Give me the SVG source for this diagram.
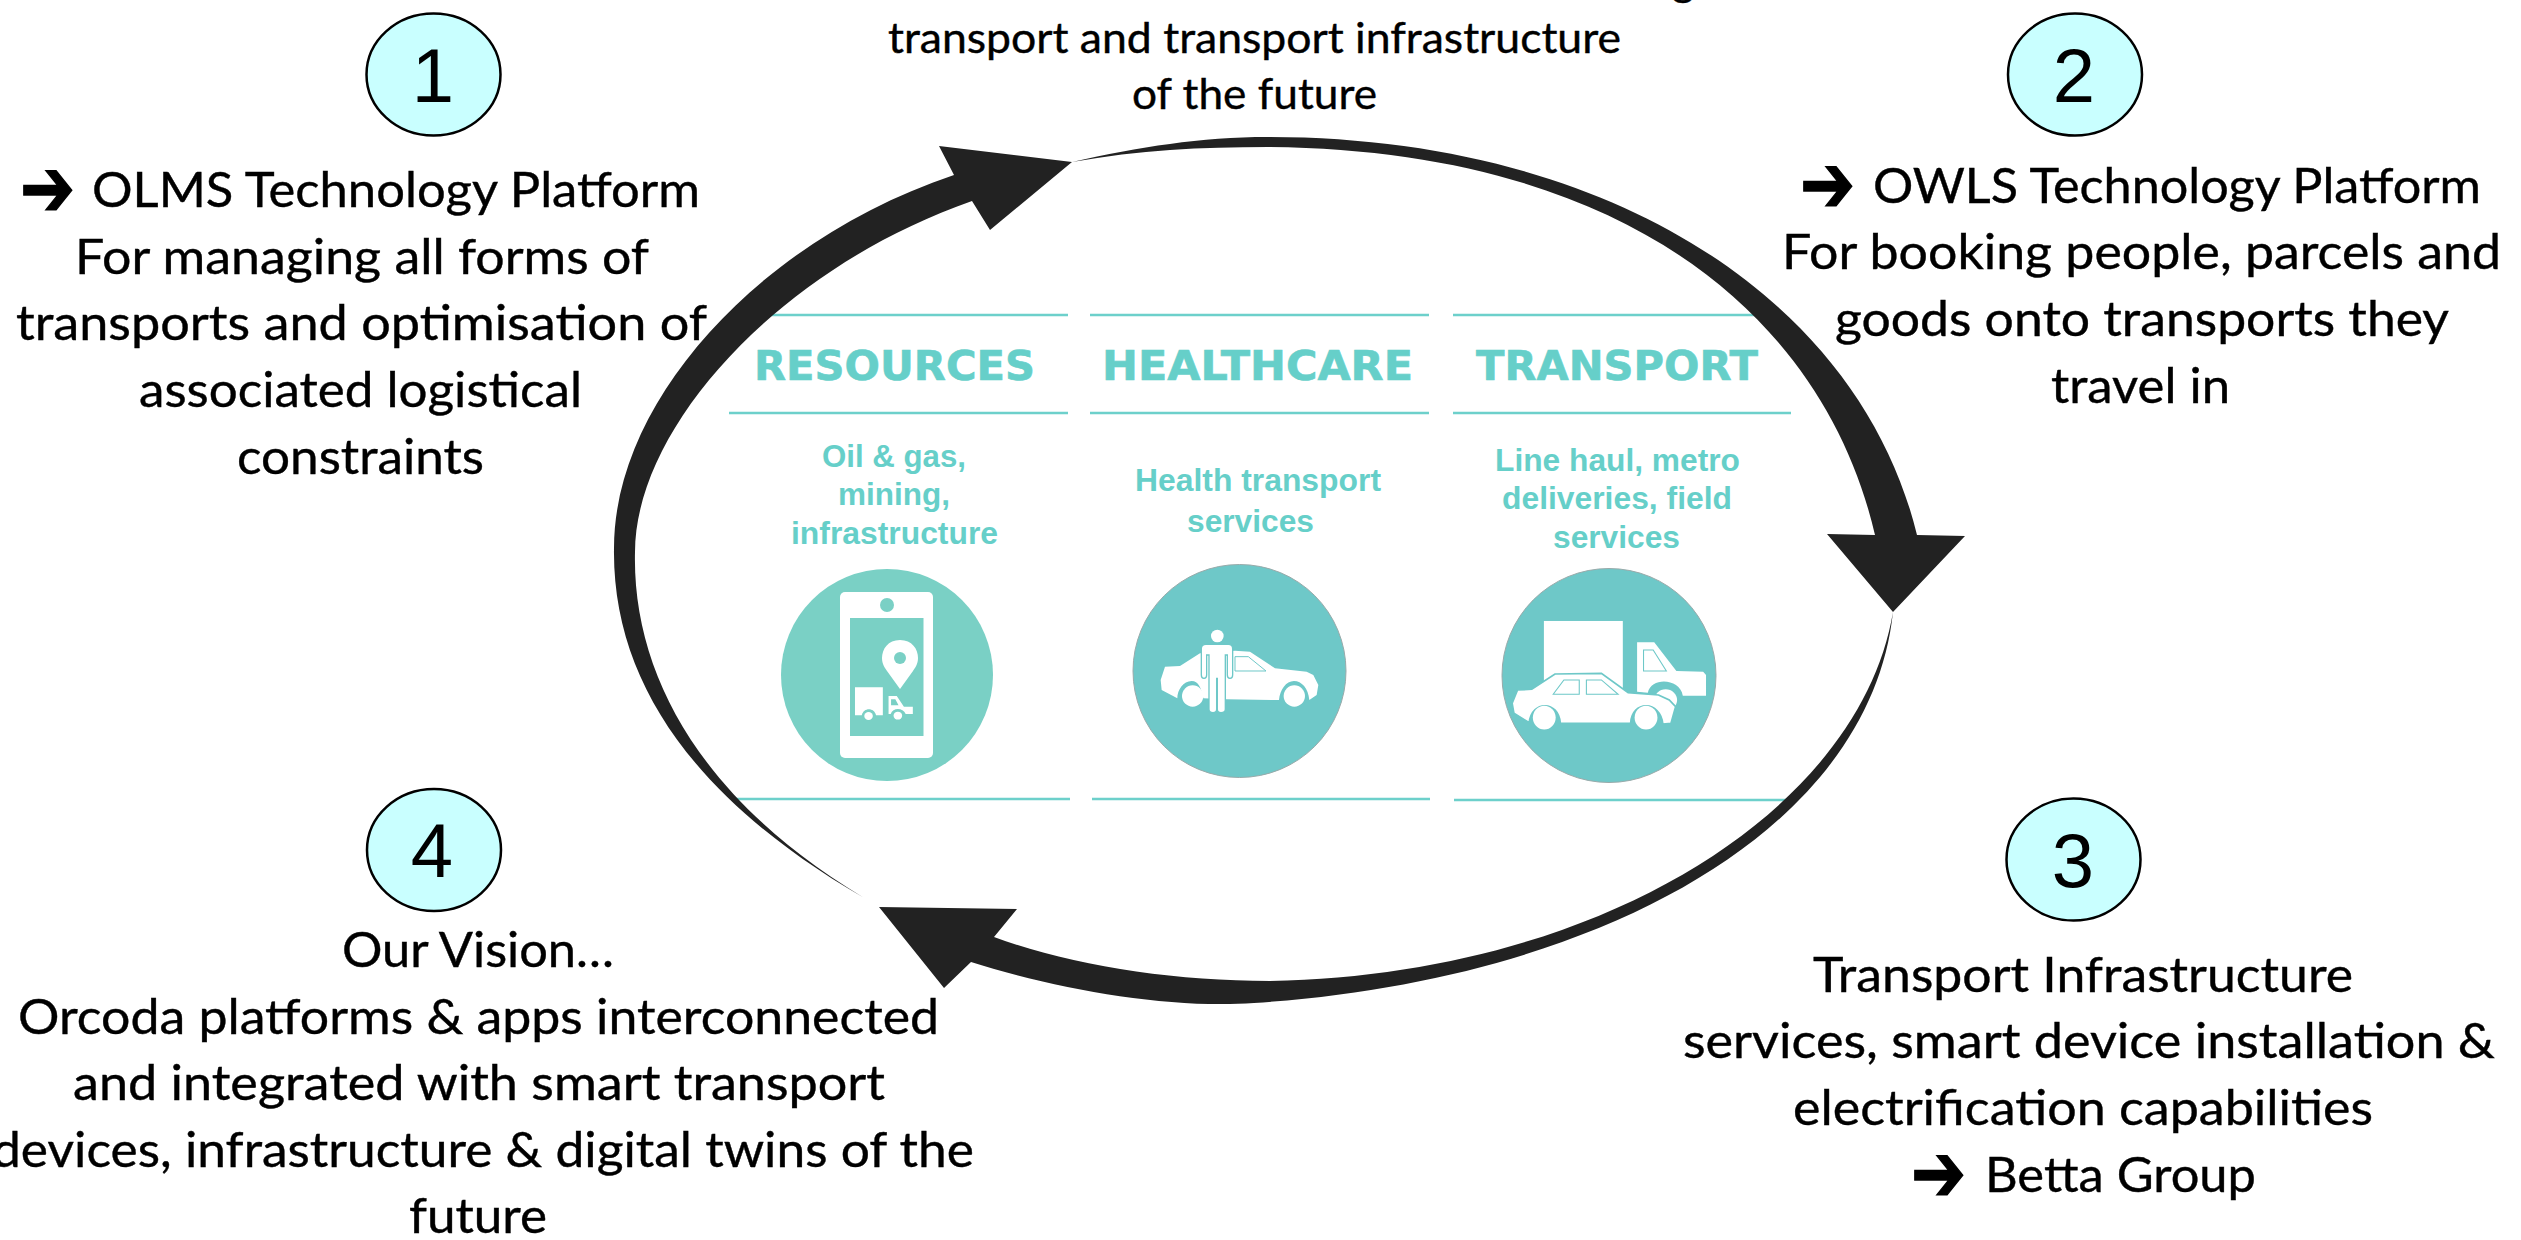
<svg xmlns="http://www.w3.org/2000/svg" width="2521" height="1240" viewBox="0 0 2521 1240">
<style>
.t{font-family:Lato,"Open Sans","Liberation Sans",sans-serif;font-size:49px;fill:#000;stroke:#000;stroke-width:.4}
.top{font-size:43px}
.ar{font-family:"DejaVu Sans",sans-serif;font-size:82px;font-weight:bold;fill:#000;stroke:#000;stroke-width:1.5}
.num{font-family:"Liberation Sans",Arial,sans-serif;font-size:76px;fill:#000;text-anchor:middle}
.bub{fill:#c9ffff;stroke:#000;stroke-width:2.5}
.h{font-family:"DejaVu Sans",sans-serif;font-weight:bold;font-size:40px;fill:#66cfc9;stroke:#66cfc9;stroke-width:.6}
.s{font-family:"Liberation Sans",Arial,sans-serif;font-weight:bold;font-size:31px;fill:#66cfc9}
.rule{stroke:#6dd0cb;stroke-width:2.5;fill:none}
.ring{fill:#222}
.w{fill:#fff}
.tealA{fill:#7ad0c5}
.tealB{fill:#6ec8c8;stroke:#9aa;stroke-width:1}
</style>
<rect width="2521" height="1240" fill="#fff"/>

<g id="panel-rules">
<path class="rule" d="M766,315H1068M729,413H1068M731,799H1070M1090,315H1429M1090,413H1429M1092,799H1430M1453,315H1760M1453,413H1791M1454,800H1787"/>
</g>

<g id="connectors">
<path class="ring" d="M880,907 C705,810 612,690 614,548 C614,400 760,240 954,175 L939,146 L1072,162 L990,230 L972,201 C775,270 635,430 635,552 C632,680 708,810 880,907 Z"/>
<path class="ring" d="M1072,162 C1140,147 1200,137 1268,137 C1610,137 1860,300 1917,535 L1965,536 L1893,612 L1827,534 L1875,535 C1825,320 1630,150 1268,147 C1200,147 1140,150 1072,162 Z"/>
<path class="ring" d="M1893,612 C1870,830 1600,980 1254,1003 C1170,1009 1060,990 971,962 L944,988 L879,907 L1017,909 L994,937 C1070,965 1170,981 1270,981 C1600,975 1860,810 1893,612 Z"/>
</g>

<g id="resources">
<text class="h" x="754" y="380" textLength="281" lengthAdjust="spacingAndGlyphs">RESOURCES</text>
<text class="s" x="822" y="467" textLength="144" lengthAdjust="spacingAndGlyphs">Oil &amp; gas,</text>
<text class="s" x="838" y="505" textLength="112" lengthAdjust="spacingAndGlyphs">mining,</text>
<text class="s" x="791" y="544" textLength="207" lengthAdjust="spacingAndGlyphs">infrastructure</text>
<circle class="tealA" cx="887" cy="675" r="106"/>
<rect class="w" x="840" y="592" width="93" height="166" rx="5"/>
<rect class="tealA" x="850" y="618" width="73.500" height="118"/>
<circle class="tealA" cx="887" cy="605" r="7"/>
<path class="w" d="M900,640 C888,640 882,649 882,658 C882,664 885,668 887,671 L900,689 L913,671 C915,668 918,664 918,658 C918,649 912,640 900,640 Z"/>
<circle class="tealA" cx="900" cy="658" r="6"/>
<g transform="translate(720,300) scale(.3571,.3333)">
<path class="w" d="M378,1162H456V1246H437C432,1222 402,1222 397,1246H378Z"/>
<ellipse class="w" cx="416" cy="1248" rx="12" ry="12"/>
<path class="w" d="M472,1188H495L515,1220H540V1242H520C512,1222 484,1222 478,1242H472Z"/>
<ellipse class="w" cx="498" cy="1247" rx="12" ry="12"/>
<path class="tealA" d="M479,1198H491L500,1216H479Z"/>
</g>
</g>

<g id="healthcare">
<text class="h" x="1102" y="380" textLength="311" lengthAdjust="spacingAndGlyphs">HEALTHCARE</text>
<text class="s" x="1135" y="491" textLength="246" lengthAdjust="spacingAndGlyphs">Health transport</text>
<text class="s" x="1187" y="532" textLength="127" lengthAdjust="spacingAndGlyphs">services</text>
<circle class="tealB" cx="1239.500" cy="671" r="106.500"/>
<g transform="translate(1120,610) scale(.3333)">
<path class="w" d="M122,210 L135,170 L180,168 L240,130 L345,122 L390,125 L465,175 L560,185 L580,195 L595,225 L590,255 L568,270 C565,235 545,213 522,213 C498,213 480,240 477,270 L320,268 L250,265 C245,235 235,213 215,213 C190,213 172,240 172,265 L125,240 Z"/>
<circle class="w" cx="218" cy="258" r="32"/>
<circle class="w" cx="523" cy="258" r="32"/>
<path fill="#fff" stroke="#6ec8c8" stroke-width="3" d="M345,140H385L438,183H345Z"/>
<circle class="w" cx="292" cy="78" r="19"/>
<path fill="#fff" stroke="#6ec8c8" stroke-width="4" d="M258,103 H325 Q338,103 338,116 V195 Q338,205 330,205 Q322,205 322,195 V135 H316 V298 Q316,308 303,308 Q292,308 292,298 V205 H290 V298 Q290,308 279,308 Q267,308 267,298 V135 H260 V195 Q260,205 252,205 Q244,205 244,195 V116 Q244,103 258,103 Z"/>
</g>
</g>

<g id="transport">
<text class="h" x="1476" y="380" textLength="282" lengthAdjust="spacingAndGlyphs">TRANSPORT</text>
<text class="s" x="1495" y="471" textLength="245" lengthAdjust="spacingAndGlyphs">Line haul, metro</text>
<text class="s" x="1502" y="509" textLength="230" lengthAdjust="spacingAndGlyphs">deliveries, field</text>
<text class="s" x="1553" y="548" textLength="127" lengthAdjust="spacingAndGlyphs">services</text>
<circle class="tealB" cx="1609" cy="675.500" r="107"/>
<g transform="translate(1280,300) scale(.3571,.3333)">
<rect class="w" x="739" y="963" width="221" height="217"/>
<path class="w" d="M1000,1027H1048L1110,1113L1185,1115L1193,1125V1187H1128C1120,1135 1040,1130 1030,1178L1000,1175Z"/>
<ellipse class="w" cx="1080" cy="1200" rx="32" ry="32"/>
<path fill="#fff" stroke="#6ec8c8" stroke-width="3" d="M1018,1050H1045L1082,1113H1018Z"/>
<path fill="#fff" stroke="#6ec8c8" stroke-width="5" d="M650,1210L665,1170L705,1168L770,1122L900,1120L975,1178L1060,1185L1090,1200L1108,1220L1095,1270L1072,1272C1065,1200 985,1200 982,1270H785C780,1200 705,1200 698,1268L655,1240Z"/>
<ellipse class="w" cx="740" cy="1253" rx="32" ry="36"/>
<ellipse class="w" cx="1025" cy="1253" rx="32" ry="36"/>
<path fill="#fff" stroke="#6ec8c8" stroke-width="3" d="M765,1183L795,1140H838V1183Z"/>
<path fill="#fff" stroke="#6ec8c8" stroke-width="3" d="M858,1140H900L947,1183H858Z"/>
</g>
</g>

<g id="top-note">
<text class="t top" x="1672" y="-4">g</text>
<text class="t top" x="888" y="53" textLength="733" lengthAdjust="spacingAndGlyphs">transport and transport infrastructure</text>
<text class="t top" x="1132" y="109" textLength="245" lengthAdjust="spacingAndGlyphs">of the future</text>
</g>

<g id="step-1">
<ellipse class="bub" cx="433.500" cy="74.500" rx="67" ry="61"/>
<text class="num" x="433" y="102">1</text>
<text class="ar" x="20" y="216" textLength="55" lengthAdjust="spacingAndGlyphs">➔</text>
<text class="t" x="92" y="207" textLength="608" lengthAdjust="spacingAndGlyphs">OLMS Technology Platform</text>
<text class="t" x="75" y="274" textLength="574" lengthAdjust="spacingAndGlyphs">For managing all forms of</text>
<text class="t" x="16" y="340" textLength="691" lengthAdjust="spacingAndGlyphs">transports and optimisation of</text>
<text class="t" x="139" y="407" textLength="443" lengthAdjust="spacingAndGlyphs">associated logistical</text>
<text class="t" x="237" y="474" textLength="247" lengthAdjust="spacingAndGlyphs">constraints</text>
</g>

<g id="step-2">
<ellipse class="bub" cx="2075" cy="74.500" rx="67" ry="61"/>
<text class="num" x="2074" y="102">2</text>
<text class="ar" x="1800" y="212" textLength="55" lengthAdjust="spacingAndGlyphs">➔</text>
<text class="t" x="1873" y="203" textLength="608" lengthAdjust="spacingAndGlyphs">OWLS Technology Platform</text>
<text class="t" x="1782" y="269" textLength="719" lengthAdjust="spacingAndGlyphs">For booking people, parcels and</text>
<text class="t" x="1835" y="336" textLength="614" lengthAdjust="spacingAndGlyphs">goods onto transports they</text>
<text class="t" x="2051" y="403" textLength="179" lengthAdjust="spacingAndGlyphs">travel in</text>
</g>

<g id="step-3">
<ellipse class="bub" cx="2073.500" cy="859.500" rx="67" ry="61"/>
<text class="num" x="2073" y="887">3</text>
<text class="t" x="1813" y="992" textLength="540" lengthAdjust="spacingAndGlyphs">Transport Infrastructure</text>
<text class="t" x="1683" y="1058" textLength="812" lengthAdjust="spacingAndGlyphs">services, smart device installation &amp;</text>
<text class="t" x="1793" y="1125" textLength="580" lengthAdjust="spacingAndGlyphs">electrification capabilities</text>
<text class="ar" x="1911" y="1201" textLength="55" lengthAdjust="spacingAndGlyphs">➔</text>
<text class="t" x="1985" y="1192" textLength="271" lengthAdjust="spacingAndGlyphs">Betta Group</text>
</g>

<g id="step-4">
<ellipse class="bub" cx="434" cy="850" rx="67" ry="61"/>
<text class="num" x="432" y="877">4</text>
<text class="t" x="342" y="967" textLength="272" lengthAdjust="spacingAndGlyphs">Our Vision…</text>
<text class="t" x="18" y="1034" textLength="921" lengthAdjust="spacingAndGlyphs">Orcoda platforms &amp; apps interconnected</text>
<text class="t" x="73" y="1100" textLength="812" lengthAdjust="spacingAndGlyphs">and integrated with smart transport</text>
<text class="t" x="-8" y="1167" textLength="982" lengthAdjust="spacingAndGlyphs">devices, infrastructure &amp; digital twins of the</text>
<text class="t" x="409" y="1233" textLength="138" lengthAdjust="spacingAndGlyphs">future</text>
</g>
</svg>
